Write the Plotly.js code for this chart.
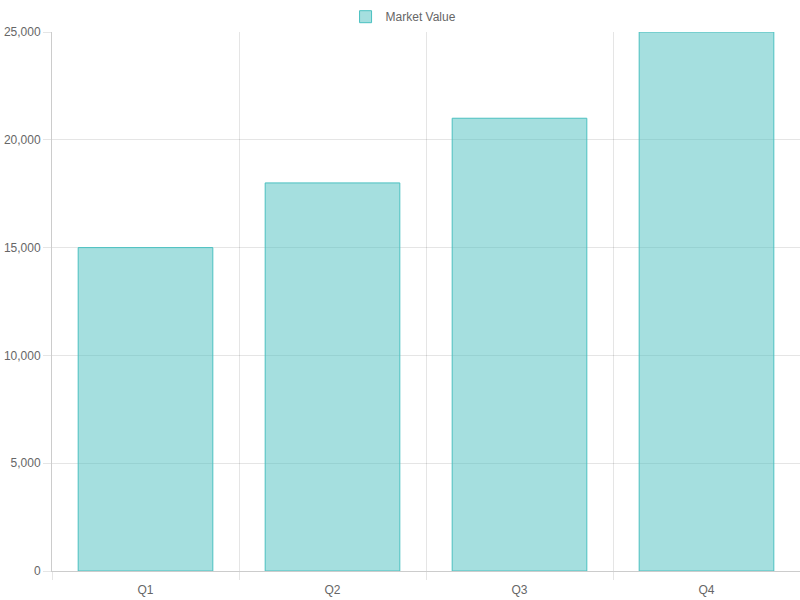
<!DOCTYPE html>
<html>
<head>
<meta charset="utf-8">
<script src="https://cdn.plot.ly/plotly-3.0.1.min.js"></script>
<style>html,body{margin:0;padding:0;background:#fff;}#chart{width:800px;height:600px;}</style>
</head>
<body>
<div id="chart"></div>
<script>
const categories = ["Q1", "Q2", "Q3", "Q4"];
const marketValues = [15000, 18000, 21000, 25000];
const seriesName = "Market Value";

const trace = {
  type: "bar",
  x: categories,
  y: marketValues,
  name: seriesName,
  marker: {
    color: "rgba(75,192,192,0.5)",
    line: { color: "rgb(75,192,192)", width: 1 }
  },
  hoverinfo: "x+y"
};

const layout = {
  width: 800,
  height: 600,
  margin: { l: 52, r: 0, t: 32, b: 29, pad: 0 },
  paper_bgcolor: "#fff",
  plot_bgcolor: "#fff",
  font: { family: "Liberation Sans, Arial, sans-serif", size: 12, color: "#666" },
  bargap: 0.28,
  showlegend: true,
  legend: {
    orientation: "h",
    x: 0.47, xanchor: "center",
    y: 0.948, yanchor: "bottom", yref: "container",
    font: { size: 12, color: "#666" },
    itemwidth: 30
  },
  xaxis: {
    type: "category",
    tickson: "boundaries",
    showgrid: true,
    gridcolor: "rgba(0,0,0,0.1)",
    showline: true,
    linecolor: "rgba(0,0,0,0.2)",
    ticks: "outside",
    ticklen: 8,
    tickcolor: "rgba(0,0,0,0.1)",
    ticklabelstandoff: 8,
    zeroline: false,
    fixedrange: true
  },
  yaxis: {
    range: [0, 25000],
    dtick: 5000,
    tick0: 0,
    tickformat: ",d",
    showgrid: true,
    gridcolor: "rgba(0,0,0,0.1)",
    showline: true,
    linecolor: "rgba(0,0,0,0.2)",
    ticks: "outside",
    ticklen: 8,
    tickcolor: "rgba(0,0,0,0.1)",
    zeroline: false,
    fixedrange: true
  }
};

Plotly.newPlot("chart", [trace], layout, { displayModeBar: false });
</script>
</body>
</html>
